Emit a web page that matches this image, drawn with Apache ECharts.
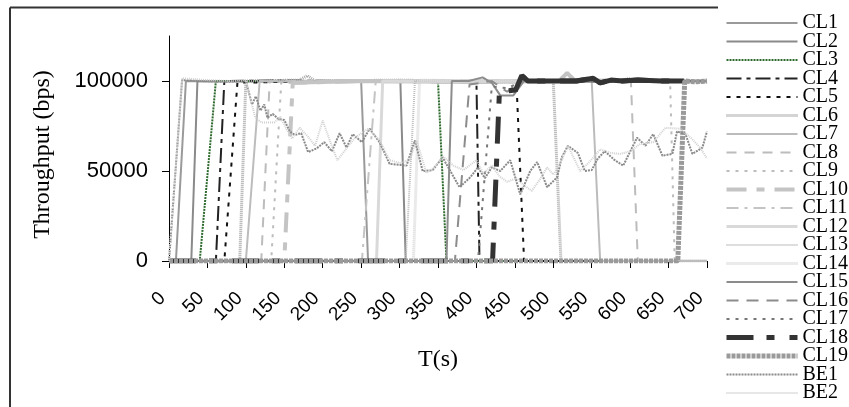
<!DOCTYPE html>
<html>
<head>
<meta charset="utf-8">
<script src="https://cdn.jsdelivr.net/npm/echarts@6/dist/echarts.min.js"></script>
<style>
  html, body { margin: 0; padding: 0; background: #fff; }
  #chart { width: 849px; height: 407px; }
</style>
</head>
<body>
<div id="chart"></div>
<script>
// Throughput of the controlled-load flows (CL1..CL19) and best-effort flows (BE1, BE2)
// Each series is a list of [time (s), throughput (bps)] points.
const cl1  = [[0,0],[9,0],[22,100000],[80,99800],[150,100300],[200,99600],[250,100000],[259,0],[700,0]];
const cl2  = [[0,0],[29,0],[37,100000],[120,99700],[200,100200],[301,100000],[308,0],[700,0]];
const cl3  = [[0,0],[40,0],[61,100000],[150,99800],[250,100200],[350,100000],[361,0],[700,0]];
const cl4  = [[0,0],[61,0],[72,100000],[160,100300],[280,99700],[400,100000],[404,0],[700,0]];
const cl5  = [[0,0],[72,0],[89,99000],[200,100000],[330,99500],[452,100000],[462,0],[700,0]];
const cl6  = [[0,0],[92,0],[100,100000],[170,100500],[180,103000],[190,100000],[300,100500],[420,99500],[500,100000],[510,0],[700,0]];
const cl7  = [[0,0],[100,0],[118,100000],[250,99500],[400,100300],[550,100000],[561,0],[700,0]];
const cl8  = [[0,0],[120,0],[131,100000],[260,100400],[450,99600],[601,100000],[610,0],[700,0]];
const cl9  = [[0,0],[133,0],[146,99000],[300,100000],[500,100300],[652,100000],[658,0],[700,0]];
const cl10 = [[0,0],[150,0],[161,99000],[250,100000],[400,99500],[508,100000],[518,104500],[528,100000],[620,100300],[700,99800]];
const cl11 = [[0,0],[251,0],[269,100000],[400,100200],[550,99700],[700,100000]];
const cl12 = [[0,0],[270,0],[278,100000],[420,99800],[560,100300],[700,100000]];
const cl13 = [[0,0],[308,0],[320,100000],[450,100300],[590,100000],[598,102000],[606,100000],[700,99600]];
const cl14 = [[0,0],[318,0],[326,100500],[400,100000],[480,100500],[600,99800],[700,100300]];
const cl15 = [[0,0],[361,0],[368,100000],[390,100000],[408,102000],[420,99000],[431,92000],[448,92000],[455,96000],[462,100000],[560,99600],[700,100000]];
const cl16 = [[0,0],[372,0],[391,98000],[420,100000],[440,94000],[458,100000],[600,100200],[700,99800]];
const cl17 = [[0,0],[402,0],[420,97000],[440,96000],[460,100000],[580,99700],[700,100000]];
const cl18 = [[0,0],[421,0],[430,95000],[440,94500],[451,95000],[459,103000],[467,100000],[530,100000],[552,101500],[561,99000],[575,100500],[590,100000],[610,100500],[640,100000],[670,100000]];
const cl19 = [[0,0],[662,0],[671,100000],[685,99500],[700,100000]];
const be1  = [[0,0],[17,100500],[40,100000],[70,99500],[100,100000],[108,87000],[113,91500],[119,83500],[124,87000],[128,79600],[135,81700],[142,79000],[150,78300],[157,72000],[164,70000],[172,71000],[181,60500],[192,62500],[202,66000],[212,61000],[222,71000],[231,63000],[239,70500],[251,66000],[261,73500],[274,66000],[287,54000],[309,53000],[320,67000],[330,50000],[343,50500],[356,57500],[366,50000],[378,41000],[392,46500],[402,52000],[411,46000],[420,52000],[431,50000],[444,56000],[457,37000],[470,50000],[479,55000],[492,41000],[505,46500],[511,57500],[519,64000],[532,60000],[541,50000],[550,50500],[558,57000],[567,61000],[580,56000],[591,53000],[609,68500],[620,64000],[630,70500],[642,58500],[655,59500],[661,72000],[672,70500],[681,59500],[694,63000],[700,72000]];
const be2  = [[0,0],[17,101500],[50,100500],[80,100000],[100,100500],[105,92000],[112,80000],[120,77000],[137,77000],[145,80000],[152,74000],[160,68000],[170,74000],[181,69000],[190,64000],[200,78000],[210,66000],[219,56000],[230,62000],[242,68500],[259,73500],[274,67000],[287,56000],[300,54500],[313,56000],[322,67000],[335,49000],[345,52000],[357,58000],[370,53000],[383,50500],[400,56000],[409,48700],[420,53000],[430,47000],[440,44000],[452,46000],[462,42000],[472,39000],[482,45000],[492,52000],[500,48000],[510,55000],[519,64000],[535,50000],[547,55000],[561,62000],[575,60000],[587,59500],[600,61000],[613,65000],[630,66000],[646,74000],[665,73500],[680,68000],[691,63000],[700,57000]];

const seriesNames = ['CL1','CL2','CL3','CL4','CL5','CL6','CL7','CL8','CL9','CL10','CL11','CL12','CL13','CL14','CL15','CL16','CL17','CL18','CL19','BE1','BE2'];
const seriesData  = [cl1,cl2,cl3,cl4,cl5,cl6,cl7,cl8,cl9,cl10,cl11,cl12,cl13,cl14,cl15,cl16,cl17,cl18,cl19,be1,be2];
const yTicks = [0, 50000, 100000];

// Line appearance for each flow, in the same order as seriesNames
const lineLooks = [
  { color: '#9a9a9a', width: 2,   type: 'solid' },
  { color: '#8a8a8a', width: 2,   type: 'solid' },
  { color: '#2f6b2f', width: 2,   type: [2, 1] },
  { color: '#222222', width: 2,   type: [15, 5, 4, 5] },
  { color: '#111111', width: 2,   type: [4, 6] },
  { color: '#a8a8a8', width: 3,   type: [1, 1] },
  { color: '#bcbcbc', width: 2,   type: 'solid' },
  { color: '#bcbcbc', width: 2,   type: [10, 8] },
  { color: '#bcbcbc', width: 2,   type: [3, 6] },
  { color: '#c4c4c4', width: 4,   type: [20, 10, 8, 10] },
  { color: '#c4c4c4', width: 2,   type: [12, 6, 3, 6] },
  { color: '#d9d9d9', width: 3,   type: 'solid' },
  { color: '#bdbdbd', width: 2,   type: [1, 1] },
  { color: '#d6d6d6', width: 3,   type: [1, 1] },
  { color: '#8c8c8c', width: 2,   type: 'solid' },
  { color: '#8c8c8c', width: 2,   type: [12, 8] },
  { color: '#777777', width: 2,   type: [3, 6] },
  { color: '#333333', width: 5,   type: [27, 13, 8, 15] },
  { color: '#9a9a9a', width: 5,   type: [4, 1] },
  { color: '#8a8a8a', width: 2,   type: [2, 1] },
  { color: '#cfcfcf', width: 2,   type: [1, 1] }
];

// The dash pattern restarts on every short sampling step, so the long
// steady stretches of the thick dashed flows read as unbroken lines.
const steadyFrom = { CL10: 161, CL18: 459 };

const serif = '"Liberation Serif", "Times New Roman", serif';
const sans = '"Liberation Sans", Arial, sans-serif';

const series = [];
seriesNames.forEach((n, i) => {
  series.push({
    name: n,
    type: 'line',
    data: seriesData[i],
    symbol: 'none',
    itemStyle: { color: lineLooks[i].color },
    lineStyle: lineLooks[i],
    emphasis: { disabled: true }
  });
  if (steadyFrom[n] !== undefined) {
    series.push({
      name: n + ' steady',
      type: 'line',
      data: seriesData[i].filter(p => p[0] >= steadyFrom[n]),
      symbol: 'none',
      itemStyle: { color: lineLooks[i].color },
      lineStyle: { color: lineLooks[i].color, width: lineLooks[i].width, type: 'solid' },
      emphasis: { disabled: true }
    });
  }
});

const chart = echarts.init(document.getElementById('chart'), null, { renderer: 'canvas' });

chart.setOption({
  animation: false,
  backgroundColor: '#fff',
  grid: { left: 169, right: 142, top: 36, bottom: 146, outerBoundsMode: 'none' },
  xAxis: {
    type: 'value', min: 0, max: 700, interval: 50,
    axisLine: { lineStyle: { color: '#000', width: 1 } },
    axisTick: { length: 7, lineStyle: { color: '#000' } },
    axisLabel: { rotate: 45, fontSize: 19, fontFamily: sans, color: '#000', margin: 28, padding: [0, 9, 0, 0] },
    splitLine: { show: false },
    name: 'T(s)', nameLocation: 'middle', nameGap: 87,
    nameTextStyle: { fontFamily: serif, fontSize: 24, color: '#000' }
  },
  yAxis: {
    type: 'value', min: 0, max: 125000, interval: 50000,
    axisLine: { show: true, lineStyle: { color: '#000', width: 1 } },
    axisTick: { show: true, length: 7, customValues: yTicks, lineStyle: { color: '#000' } },
    axisLabel: { customValues: yTicks, fontSize: 22, fontFamily: sans, color: '#000', margin: 21, formatter: v => String(v) },
    splitLine: { show: false },
    name: 'Throughput (bps)', nameLocation: 'middle', nameGap: 114,
    nameTextStyle: { fontFamily: serif, fontSize: 24, color: '#000', padding: [0, 12, 0, 0] }
  },
  legend: {
    orient: 'vertical', left: 724, top: 13, padding: 0,
    itemGap: -1.5, itemWidth: 71, itemHeight: 12,
    selectedMode: false,
    itemStyle: { color: 'rgba(0,0,0,0)', borderWidth: 0, opacity: 0 },
    data: seriesNames.map((n, i) => ({ name: n, lineStyle: { width: lineLooks[i].width } })),
    textStyle: { fontFamily: serif, fontSize: 20, color: '#000' }
  },
  graphic: [
    { type: 'line', shape: { x1: 10, y1: 7.5, x2: 718, y2: 7.5 }, style: { stroke: '#333', lineWidth: 2 } },
    { type: 'line', shape: { x1: 10, y1: 7.5, x2: 10, y2: 407 }, style: { stroke: '#333', lineWidth: 2 } }
  ],
  series: series
});
</script>
</body>
</html>
